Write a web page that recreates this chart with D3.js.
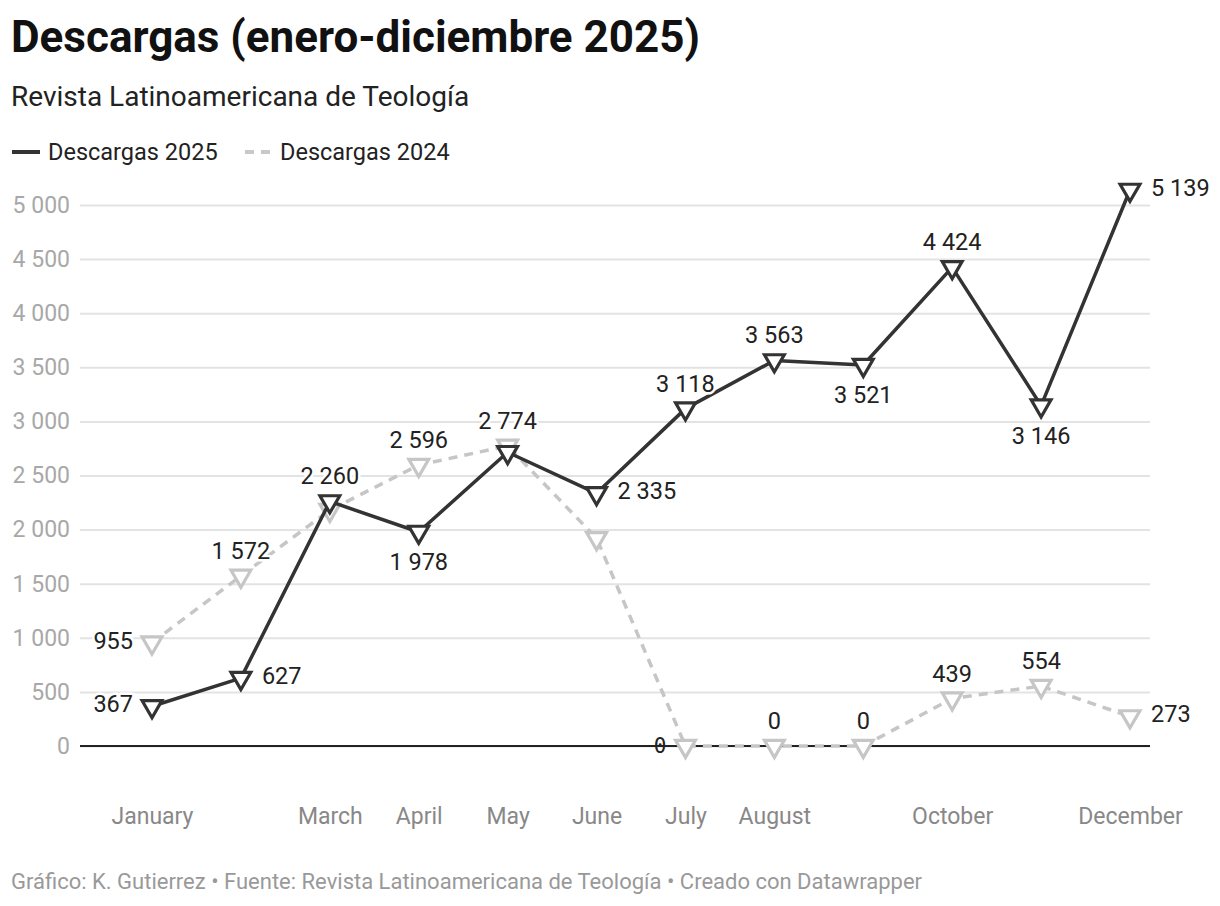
<!DOCTYPE html>
<html>
<head>
<meta charset="utf-8">
<script src="https://cdn.jsdelivr.net/npm/d3@7"></script>
<style>
  body { margin: 0; background: #fff; }
  svg { font-family: Roboto, sans-serif; }
  .grid line { stroke: #e3e3e3; stroke-width: 2; }
  .grid path { display: none; }
  .grid text { fill: #a8a8a8; font-size: 23px; font-family: Roboto, sans-serif; }
  .xaxis path, .xaxis line { display: none; }
  .xaxis text { fill: #888; font-size: 23px; font-family: Roboto, sans-serif; }
  .label { font-size: 23.5px; fill: #222; paint-order: stroke; stroke: #fff; stroke-width: 5px; stroke-linejoin: round; }
  .label.zero { font-family: 'DejaVu Sans Mono', monospace; font-size: 21px; stroke: none; }
</style>
</head>
<body>
<svg id="chart" width="1220" height="906"></svg>
<script>
const months = ['January', 'February', 'March', 'April', 'May', 'June', 'July',
  'August', 'September', 'October', 'November', 'December']
const shownMonths = ['January', 'March', 'April', 'May', 'June', 'July', 'August', 'October', 'December']
const downloads2025 = [367, 627, 2260, 1978, 2715, 2335, 3118, 3563, 3521, 4424, 3146, 5139]
const downloads2024 = [955, 1572, 2180, 2596, 2774, 1920, 0, 0, 0, 439, 554, 273]
const yTicks = [0, 500, 1000, 1500, 2000, 2500, 3000, 3500, 4000, 4500, 5000]

// where each value label goes (null = hidden, like the original)
const side2025 = ['left', 'right', 'top', 'bottom', null, 'right', 'top', 'top', 'bottom', 'top', 'bottom', 'right']
const side2024 = ['left', 'top', null, 'top', 'top', null, 'zero', 'top', 'top', 'top', 'top', 'right']

const plotLeft = 80
const plotRight = 1150
const plotTop = 205
const plotBottom = 746

const svg = d3.select('#chart')
const fmt = d3.formatLocale({ decimal: ',', thousands: ' ', grouping: [3], currency: ['', ''] }).format(',')

svg.append('text')
  .attr('x', 11).attr('y', 52)
  .attr('font-size', 44).attr('font-weight', 700).attr('fill', '#111')
  .text('Descargas (enero-diciembre 2025)')

svg.append('text')
  .attr('x', 11).attr('y', 106)
  .attr('font-size', 28).attr('fill', '#222')
  .text('Revista Latinoamericana de Teología')

// legend
const legend = svg.append('g')
legend.append('line')
  .attr('x1', 12).attr('x2', 40).attr('y1', 152).attr('y2', 152)
  .attr('stroke', '#333').attr('stroke-width', 4)
legend.append('text')
  .attr('x', 48).attr('y', 160).attr('font-size', 23.5).attr('fill', '#222')
  .text('Descargas 2025')
legend.append('line')
  .attr('x1', 245).attr('x2', 272).attr('y1', 152).attr('y2', 152)
  .attr('stroke', '#c8c8c8').attr('stroke-width', 4).attr('stroke-dasharray', '9,7')
legend.append('text')
  .attr('x', 280).attr('y', 160).attr('font-size', 23.5).attr('fill', '#222')
  .text('Descargas 2024')

const x = d3.scalePoint().domain(months).range([152, 1130])
const y = d3.scaleLinear().domain([0, 5000]).range([plotBottom, plotTop])

svg.append('g')
  .attr('class', 'grid')
  .attr('transform', `translate(${plotLeft},0)`)
  .call(d3.axisLeft(y).tickValues(yTicks).tickFormat(fmt).tickSize(-(plotRight - plotLeft)).tickPadding(10))

svg.append('line')
  .attr('x1', plotLeft).attr('x2', plotRight).attr('y1', y(0)).attr('y2', y(0))
  .attr('stroke', '#222').attr('stroke-width', 2)

svg.append('g')
  .attr('class', 'xaxis')
  .attr('transform', `translate(0,${plotBottom + 59})`)
  .call(d3.axisBottom(x).tickSize(0).tickFormat(m => shownMonths.includes(m) ? m : ''))

const line = d3.line().x((_, i) => x(months[i])).y(d => y(d))
const tri = d3.symbol(d3.symbolTriangle, 170)

function drawSeries(values, color, dashed) {
  svg.append('path')
    .datum(values)
    .attr('d', line)
    .attr('fill', 'none')
    .attr('stroke', color)
    .attr('stroke-width', 3.5)
    .attr('stroke-linejoin', 'round')
    .attr('stroke-dasharray', dashed ? '9,7' : null)

  svg.append('g')
    .selectAll('path')
    .data(values)
    .join('path')
    .attr('d', tri)
    .attr('transform', (d, i) => `translate(${x(months[i])},${y(d)}) rotate(180)`)
    .attr('fill', '#fff')
    .attr('stroke', color)
    .attr('stroke-width', 3.2)
}

function drawLabels(values, sides) {
  values.forEach((v, i) => {
    const s = sides[i]
    if (!s) return
    const px = x(months[i])
    const py = y(v)
    const t = svg.append('text')
      .attr('class', 'label')
      .attr('dominant-baseline', 'central')
      .text(fmt(v))
    if (s === 'top') t.attr('x', px).attr('y', py - 25).attr('text-anchor', 'middle')
    if (s === 'bottom') t.attr('x', px).attr('y', py + 30).attr('text-anchor', 'middle')
    if (s === 'right') t.attr('x', px + 21).attr('y', py - 2)
    if (s === 'left') t.attr('x', px - 19).attr('y', py - 2).attr('text-anchor', 'end')
    if (s === 'zero') {
      t.classed('zero', true).attr('x', px - 19).attr('y', py).attr('text-anchor', 'end')
    }
  })
}

drawSeries(downloads2024, '#c6c6c6', true)
drawSeries(downloads2025, '#333', false)
drawLabels(downloads2024, side2024)
drawLabels(downloads2025, side2025)

svg.append('text')
  .attr('x', 11).attr('y', 889)
  .attr('font-size', 22).attr('fill', '#999')
  .text('Gráfico: K. Gutierrez • Fuente: Revista Latinoamericana de Teología • Creado con Datawrapper')
</script>
</body>
</html>
